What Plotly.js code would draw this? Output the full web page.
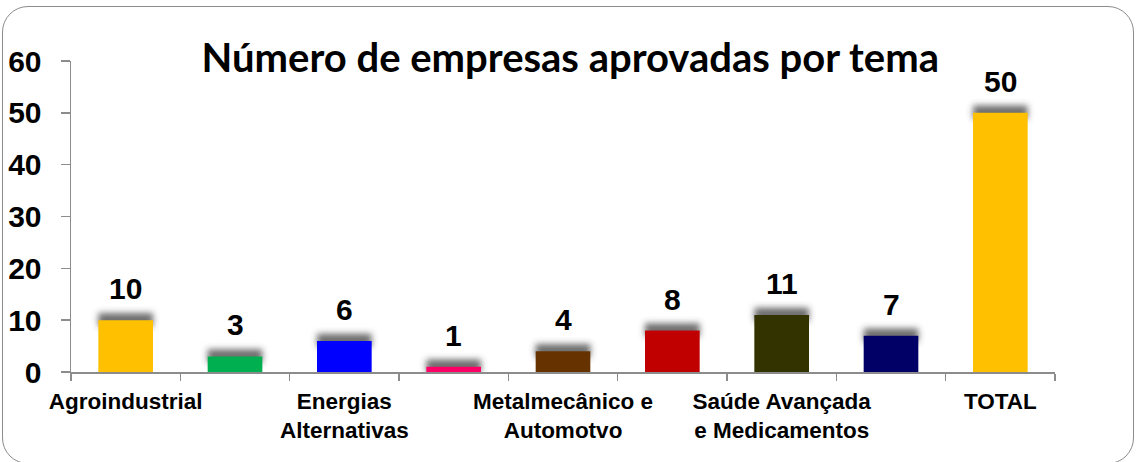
<!DOCTYPE html>
<html>
<head>
<meta charset="utf-8">
<script src="https://cdn.plot.ly/plotly-3.0.1.min.js"></script>
<style>
  html, body { margin: 0; padding: 0; background: #ffffff; }
  #wrap { position: relative; width: 1136px; height: 462px; overflow: hidden; }
  #chart { position: absolute; left: 0; top: 0; width: 1136px; height: 462px; }
  #frame { position: absolute; left: 2px; top: 6px; width: 1132px; height: 458px;
           box-sizing: border-box; border: 1.6px solid #8c8c8c; border-radius: 26px;
           pointer-events: none; }
</style>
</head>
<body>
<div id="wrap">
  <div id="chart"></div>
  <div id="frame"></div>
</div>
<script>
// ---- data ----
const values = [10, 3, 6, 1, 4, 8, 11, 7, 50];
const barColors = ['#FFC000', '#00B050', '#0000FF', '#FF0066', '#663300',
                   '#C00000', '#333300', '#000066', '#FFC000'];
const labelIndex = [0, 2, 4, 6, 8];
const tickLabels = ['Agroindustrial', 'Energias<br>Alternativas',
                    'Metalmecânico e<br>Automotvo',
                    'Saúde Avançada<br>e Medicamentos', 'TOTAL'];
const titleText = 'Número de empresas aprovadas por tema';

const xs = values.map((_, i) => i);
const FONT = '"Liberation Sans", Arial, sans-serif';

const shadow = {
  type: 'bar', x: xs,
  base: values.map(v => v - 1.2),
  y: values.map(() => 2.6),
  width: 0.5,
  marker: { color: 'rgba(60,60,60,0.75)', line: { width: 0 } },
  hoverinfo: 'skip', showlegend: false
};
const bars = {
  type: 'bar', x: xs, y: values, width: 0.5,
  marker: { color: barColors, line: { width: 0 } },
  showlegend: false
};

const annotations = values.map((v, i) => ({
  x: i, y: v, xref: 'x', yref: 'y', text: String(v),
  showarrow: false, yanchor: 'bottom', yshift: 13,
  font: { family: FONT, size: 30, color: '#000000', weight: 'bold' }
}));

const layout = {
  width: 1136, height: 462,
  margin: { l: 71, r: 81, t: 61, b: 90 },
  paper_bgcolor: 'rgba(0,0,0,0)', plot_bgcolor: 'rgba(0,0,0,0)',
  barmode: 'overlay',
  title: {
    text: titleText, x: 0.502, xanchor: 'center', y: 0.875, yanchor: 'middle',
    font: { family: 'Lato, "Open Sans", sans-serif', size: 40, color: '#000000', weight: 'bold' }
  },
  xaxis: {
    range: [-0.5, 8.5], fixedrange: true,
    tickmode: 'array', tickvals: labelIndex, ticktext: tickLabels,
    ticks: '', showgrid: false, zeroline: false,
    showline: true, linecolor: '#8c8c8c', linewidth: 1.5,
    ticklabelstandoff: 8,
    tickfont: { family: FONT, size: 22.5, color: '#000000', weight: 'bold' },
    minor: { tickmode: 'linear', tick0: -0.5, dtick: 1, ticks: 'outside',
             ticklen: 7, tickwidth: 1.5, tickcolor: '#8c8c8c', showgrid: false }
  },
  yaxis: {
    range: [0, 60], dtick: 10, tick0: 0, fixedrange: true,
    ticks: 'outside', ticklen: 9, tickwidth: 1.5, tickcolor: '#8c8c8c',
    showgrid: false, zeroline: false,
    showline: true, linecolor: '#8c8c8c', linewidth: 1.5,
    ticklabelstandoff: 13,
    tickfont: { family: FONT, size: 30, color: '#000000', weight: 'bold' }
  },
  annotations: annotations
};

Plotly.newPlot('chart', [shadow, bars], layout, { displayModeBar: false, staticPlot: true })
  .then(gd => {
    const svg = gd.querySelector('svg.main-svg');
    const ns = 'http://www.w3.org/2000/svg';
    let defs = svg.querySelector('defs');
    if (!defs) { defs = document.createElementNS(ns, 'defs'); svg.insertBefore(defs, svg.firstChild); }
    const f = document.createElementNS(ns, 'filter');
    f.setAttribute('id', 'barShadowBlur');
    f.setAttribute('x', '-50%'); f.setAttribute('y', '-50%');
    f.setAttribute('width', '200%'); f.setAttribute('height', '200%');
    const b = document.createElementNS(ns, 'feGaussianBlur');
    b.setAttribute('stdDeviation', '3');
    f.appendChild(b);
    defs.appendChild(f);
    const traces = gd.querySelectorAll('.barlayer .trace');
    if (traces.length) traces[0].setAttribute('filter', 'url(#barShadowBlur)');
  });
</script>
</body>
</html>
